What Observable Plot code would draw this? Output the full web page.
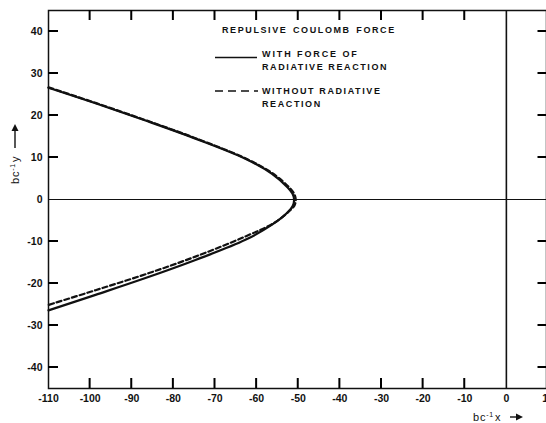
<!DOCTYPE html>
<html><head><meta charset="utf-8">
<script src="https://cdn.jsdelivr.net/npm/d3@7"></script>
<script src="https://cdn.jsdelivr.net/npm/@observablehq/plot@0.6"></script>
<style>
body{margin:0;background:#fff;}
#chart svg{overflow:hidden;display:block;}
</style></head><body><div id="chart"></div>
<script>
// Tick values
const xTickLabels = [-110,-100,-90,-80,-70,-60,-50,-40,-30,-20,-10,0,10];
const yTickLabels = [-40,-30,-20,-10,0,10,20,30,40];
const xInnerTicks = [-100,-90,-80,-70,-60,-50,-40,-30,-20,-10];
const yInnerTicks = [-40,-30,-20,-10,10,20,30,40];

// With force of radiative reaction (solid), path order top -> vertex -> bottom
const solidX = [-110,-98.7,-86.7,-74.7,-62.7,-56.3,-52.6,-51.4,-51.0,-51.3,-52.4,-56.3,-62.7,-74.7,-86.7,-98.7,-110];
const solidY = [26.6,22.9,18.8,14.5,9.7,6.1,2.9,1.4,0,-1.5,-2.9,-6.0,-9.6,-14.4,-18.7,-22.7,-26.4];

// Without radiative reaction (dashed)
const dashX = [-110,-98.7,-86.7,-74.7,-62.7,-56.1,-52.3,-51.0,-50.6,-50.9,-52.0,-55.5,-62.7,-74.7,-86.7,-98.7,-110];
const dashY = [26.7,23.0,18.9,14.6,9.8,6.2,3.0,1.4,0,-1.4,-2.6,-5.4,-8.8,-13.6,-17.8,-21.6,-25.1];

const legendTitle = "REPULSIVE COULOMB FORCE";
const legendSolid = ["WITH FORCE OF","RADIATIVE REACTION"];
const legendDashed = ["WITHOUT RADIATIVE","REACTION"];

const solid = solidX.map((x,i)=>({x, y: solidY[i]}));
const dashed = dashX.map((x,i)=>({x, y: dashY[i]}));

const ink = "#111111";
const fmt = d => String(d);
const xMin = -110, xMax = 10, yMin = -45, yMax = 45;

const chart = Plot.plot({
  width: 546, height: 423,
  marginLeft: 48, marginRight: 0, marginTop: 10, marginBottom: 35,
  x: {domain: [xMin, xMax], range: [48, 547.5]},
  y: {domain: [yMin, yMax], range: [388, 10]},
  style: {fontFamily: "'Liberation Sans', Arial, sans-serif", fontSize: "10.5px", background: "#fff"},
  marks: [
    Plot.frame({stroke: ink, strokeWidth: 1.5}),
    Plot.ruleX([0], {stroke: ink, strokeWidth: 1.6}),
    Plot.ruleY([0], {stroke: ink, strokeWidth: 1.2}),
    Plot.axisX(xTickLabels, {anchor: "bottom", tickSize: 0, tickPadding: 6, tickFormat: fmt, label: null, fontWeight: "bold", fill: ink}),
    Plot.axisY(yTickLabels, {anchor: "left", tickSize: 0, tickPadding: 6, tickFormat: fmt, label: null, fontWeight: "bold", fill: ink}),
    Plot.line(solid, {x: "x", y: "y", curve: "catmull-rom", stroke: ink, strokeWidth: 2.2}),
    Plot.line(dashed, {x: "x", y: "y", curve: "catmull-rom", stroke: ink, strokeWidth: 2.2, strokeDasharray: "5,3"})
  ]
});
document.getElementById("chart").appendChild(chart);

const svg = d3.select(chart);
// Inward ticks, positioned through Plot's own scales
const sx = chart.scale("x"), sy = chart.scale("y");
const X = v => sx.apply(v), Y = v => sy.apply(v);
const tickPx = 10;
let d = "";
for (const v of xInnerTicks) {
  d += `M${X(v)},${Y(yMin)}V${Y(yMin) - tickPx}`;
  d += `M${X(v)},${Y(yMax)}V${Y(yMax) + tickPx}`;
}
for (const v of yInnerTicks) {
  d += `M${X(xMin)},${Y(v)}H${X(xMin) + tickPx}`;
  d += `M${X(xMax)},${Y(v)}H${X(xMax) - tickPx}`;
}
svg.append("path").attr("d", d).attr("fill", "none").attr("stroke", "#000").attr("stroke-width", 2);

const g = svg.append("g").attr("fill", ink).attr("text-anchor", "start")
  .style("font-family", "'Liberation Sans', Arial, sans-serif")
  .style("font-weight", "bold").style("font-size", "9px").style("letter-spacing", "1.6px");
g.append("text").attr("x", 222).attr("y", 33).style("word-spacing", "1.5px").text(legendTitle);
g.append("line").attr("x1", 215).attr("x2", 257).attr("y1", 57.5).attr("y2", 57.5).attr("stroke", ink).attr("stroke-width", 1.5);
g.append("text").attr("x", 262).attr("y", 56.5).style("letter-spacing", "1.9px").text(legendSolid[0]);
g.append("text").attr("x", 262).attr("y", 69.5).text(legendSolid[1]);
g.append("line").attr("x1", 215).attr("x2", 258).attr("y1", 91).attr("y2", 91).attr("stroke", ink).attr("stroke-width", 1.5).attr("stroke-dasharray", "8,5");
g.append("text").attr("x", 262).attr("y", 93.5).text(legendDashed[0]);
g.append("text").attr("x", 262).attr("y", 106.5).text(legendDashed[1]);

// Axis titles
const at = svg.append("g").attr("fill", ink).attr("text-anchor", "start")
  .style("font-family", "'Liberation Sans', Arial, sans-serif").style("font-size", "11px").style("letter-spacing", "0.8px");
const tx = at.append("text").attr("x", 473).attr("y", 421);
tx.append("tspan").text("bc");
tx.append("tspan").attr("dy", -4).style("font-size", "7px").text("-1");
tx.append("tspan").attr("dy", 4).attr("dx", 1).text("x");
at.append("line").attr("x1", 510).attr("x2", 518).attr("y1", 417).attr("y2", 417).attr("stroke", ink).attr("stroke-width", 1.4);
at.append("path").attr("d", "M523,417 L516,413.5 L516,420.5 Z");

const ty = at.append("text").attr("transform", "translate(19,184) rotate(-90)");
ty.append("tspan").text("bc");
ty.append("tspan").attr("dy", -4).style("font-size", "7px").text("-1");
ty.append("tspan").attr("dy", 4).attr("dx", 1).text("y");
at.append("line").attr("x1", 15).attr("x2", 15).attr("y1", 148).attr("y2", 130).attr("stroke", ink).attr("stroke-width", 1.4);
at.append("path").attr("d", "M15,124 L11.5,131 L18.5,131 Z");
</script>
</body></html>
